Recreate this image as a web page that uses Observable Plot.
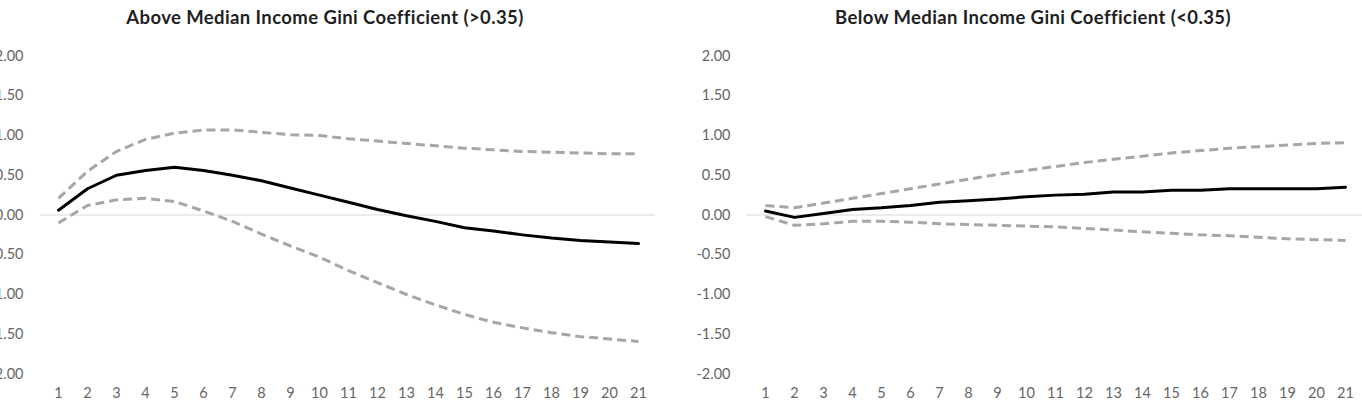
<!DOCTYPE html>
<html>
<head>
<meta charset="utf-8">
<script src="https://cdn.jsdelivr.net/npm/d3@7"></script>
<script src="https://cdn.jsdelivr.net/npm/@observablehq/plot@0.6"></script>
<style>
  body { margin: 0; background: #fff; width: 1362px; height: 413px; overflow: hidden; position: relative; font-family: Lato, "Open Sans", sans-serif; }
  .title { position: absolute; top: 6px; font: bold 18.5px Lato, sans-serif; letter-spacing: 0.4px; color: #1f1f1f; white-space: nowrap; transform: translateX(-50%); }
  .chart { position: absolute; top: 36px; }
  .chart svg { max-width: none; background: transparent; overflow: visible; }
</style>
</head>
<body>
<div class="title" id="t1" style="left:325px"></div>
<div class="title" id="t2" style="left:1033px"></div>
<div class="chart" id="c1" style="left:-60px"></div>
<div class="chart" id="c2" style="left:680px"></div>
<script>
// Horizon (periods after the shock)
const periods = [1, 2, 3, 4, 5, 6, 7, 8, 9, 10, 11, 12, 13, 14, 15, 16, 17, 18, 19, 20, 21];

// Above-median Gini group: response with upper / lower bands
const aboveResponse = [0.06, 0.33, 0.50, 0.56, 0.60, 0.56, 0.50, 0.43, 0.34, 0.25, 0.16, 0.07, -0.01, -0.08, -0.16, -0.20, -0.25, -0.29, -0.32, -0.34, -0.36];
const aboveUpper    = [0.21, 0.55, 0.80, 0.95, 1.03, 1.07, 1.07, 1.04, 1.01, 1.00, 0.96, 0.93, 0.90, 0.87, 0.84, 0.82, 0.80, 0.79, 0.78, 0.77, 0.77];
const aboveLower    = [-0.10, 0.12, 0.19, 0.21, 0.17, 0.05, -0.08, -0.24, -0.39, -0.53, -0.70, -0.85, -1.00, -1.13, -1.25, -1.35, -1.42, -1.48, -1.53, -1.56, -1.59];

// Below-median Gini group
const belowResponse = [0.05, -0.03, 0.02, 0.07, 0.09, 0.12, 0.16, 0.18, 0.20, 0.23, 0.25, 0.26, 0.29, 0.29, 0.31, 0.31, 0.33, 0.33, 0.33, 0.33, 0.35];
const belowUpper    = [0.12, 0.09, 0.15, 0.21, 0.27, 0.33, 0.39, 0.45, 0.51, 0.56, 0.61, 0.66, 0.70, 0.74, 0.78, 0.81, 0.84, 0.86, 0.88, 0.90, 0.91];
const belowLower    = [-0.02, -0.13, -0.11, -0.08, -0.08, -0.09, -0.11, -0.12, -0.13, -0.14, -0.15, -0.17, -0.19, -0.21, -0.23, -0.25, -0.26, -0.28, -0.30, -0.31, -0.32];

const yTicks = [-2, -1.5, -1, -0.5, 0, 0.5, 1, 1.5, 2];
const titles = ["Above Median Income Gini Coefficient (>0.35)", "Below Median Income Gini Coefficient (<0.35)"];

function rows(resp, up, lo) {
  return periods.map((p, i) => ({period: p, response: resp[i], upper: up[i], lower: lo[i]}));
}

function panel(data, {width, marginLeft, marginRight}) {
  const band = {stroke: "#a6a6a6", strokeWidth: 3, strokeDasharray: "9,5", strokeLinecap: "butt"};
  return Plot.plot({
    width,
    height: 377,
    marginTop: 19.5,
    marginBottom: 39.5,
    marginLeft,
    marginRight,
    style: {background: "transparent", fontFamily: "Lato, sans-serif", overflow: "visible"},
    x: {type: "point", domain: periods, padding: 0.5},
    y: {domain: [-2, 2]},
    marks: [
      Plot.ruleY([0], {stroke: "#d9d9d9", strokeWidth: 1}),
      Plot.axisY({ticks: yTicks, tickFormat: d => d.toFixed(2), tickSize: 0, tickPadding: 17, fontSize: 14.5, fill: "#666", label: null}),
      Plot.axisX({tickSize: 0, tickPadding: 14, fontSize: 14.5, fill: "#666", label: null}),
      Plot.line(data, {x: "period", y: "upper", ...band}),
      Plot.line(data, {x: "period", y: "lower", ...band}),
      Plot.line(data, {x: "period", y: "response", stroke: "#000", strokeWidth: 3})
    ]
  });
}

document.getElementById("t1").textContent = titles[0];
document.getElementById("t2").textContent = titles[1];
document.getElementById("c1").append(panel(rows(aboveResponse, aboveUpper, aboveLower), {width: 740, marginLeft: 100, marginRight: 25}));
document.getElementById("c2").append(panel(rows(belowResponse, belowUpper, belowLower), {width: 682, marginLeft: 67, marginRight: 0}));
</script>
</body>
</html>
